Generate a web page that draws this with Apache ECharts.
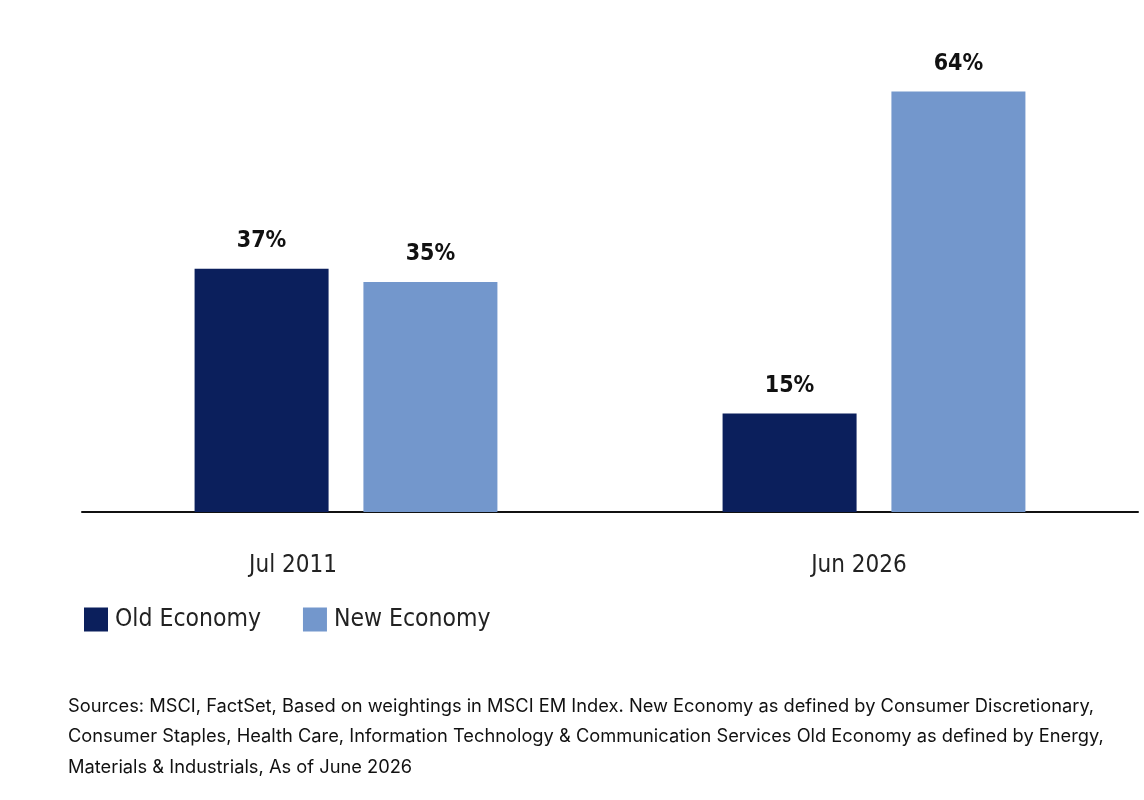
<!DOCTYPE html>
<html>
<head>
<meta charset="utf-8">
<script src="https://cdn.jsdelivr.net/npm/echarts@6/dist/echarts.min.js"></script>
<style>
html,body{margin:0;padding:0;background:#fff;}
#chart{width:1144px;height:800px;}
</style>
</head>
<body>
<div id="chart"></div>
<script>
const categories = ['Jul 2011', 'Jun 2026'];
const oldEconomy = [37, 15];
const newEconomy = [35, 64];
const seriesNames = ['Old Economy', 'New Economy'];
const footnote = 'Sources: MSCI, FactSet, Based on weightings in MSCI EM Index. New Economy as defined by Consumer Discretionary,\nConsumer Staples, Health Care, Information Technology & Communication Services Old Economy as defined by Energy,\nMaterials & Industrials, As of June 2026';

const narrow = '"Liberation Sans Narrow", "DejaVu Sans Condensed", "Roboto Condensed", sans-serif';
const chart = echarts.init(document.getElementById('chart'));
const labelStyle = {
  show: true, position: 'top', distance: 16,
  formatter: '{c}%', fontFamily: narrow, fontWeight: 'bold', fontSize: 23, color: '#111'
};
chart.setOption({
  animation: false,
  grid: { left: 82, right: 6, top: 52, bottom: 288 },
  legend: {
    left: 79, top: 602, itemWidth: 24, itemHeight: 24, itemGap: 42,
    icon: 'rect',
    textStyle: { fontFamily: narrow, fontSize: 24.5, color: '#222', padding: [0,0,0,2] },
    data: seriesNames
  },
  xAxis: {
    type: 'category', data: categories,
    axisLine: { lineStyle: { color: '#111', width: 2 } },
    axisTick: { show: false },
    axisLabel: {
      margin: 42,
      formatter: function (v, i) { return i === 0 ? '{a|' + v + '}' : '{b|' + v + '}'; },
      rich: {
        a: { fontFamily: narrow, fontSize: 24, color: '#222', padding: [0, 106, 0, 0] },
        b: { fontFamily: narrow, fontSize: 24, color: '#222', padding: [0, 30, 0, 0] }
      }
    }
  },
  yAxis: { type: 'value', min: 0, max: 70, show: false, splitLine: { show: false } },
  series: [
    { name: seriesNames[0], type: 'bar', data: oldEconomy, barWidth: 134, barGap: '26%',
      itemStyle: { color: '#0b1f5c' }, label: labelStyle },
    { name: seriesNames[1], type: 'bar', data: newEconomy, barWidth: 134,
      itemStyle: { color: '#7397cc' }, label: labelStyle }
  ],
  graphic: [{
    type: 'text', left: 68, top: 691,
    style: { text: footnote, font: '18.3px Inter, "Noto Sans", sans-serif', fill: '#111', lineHeight: 30.5 }
  }]
});
</script>
</body>
</html>
